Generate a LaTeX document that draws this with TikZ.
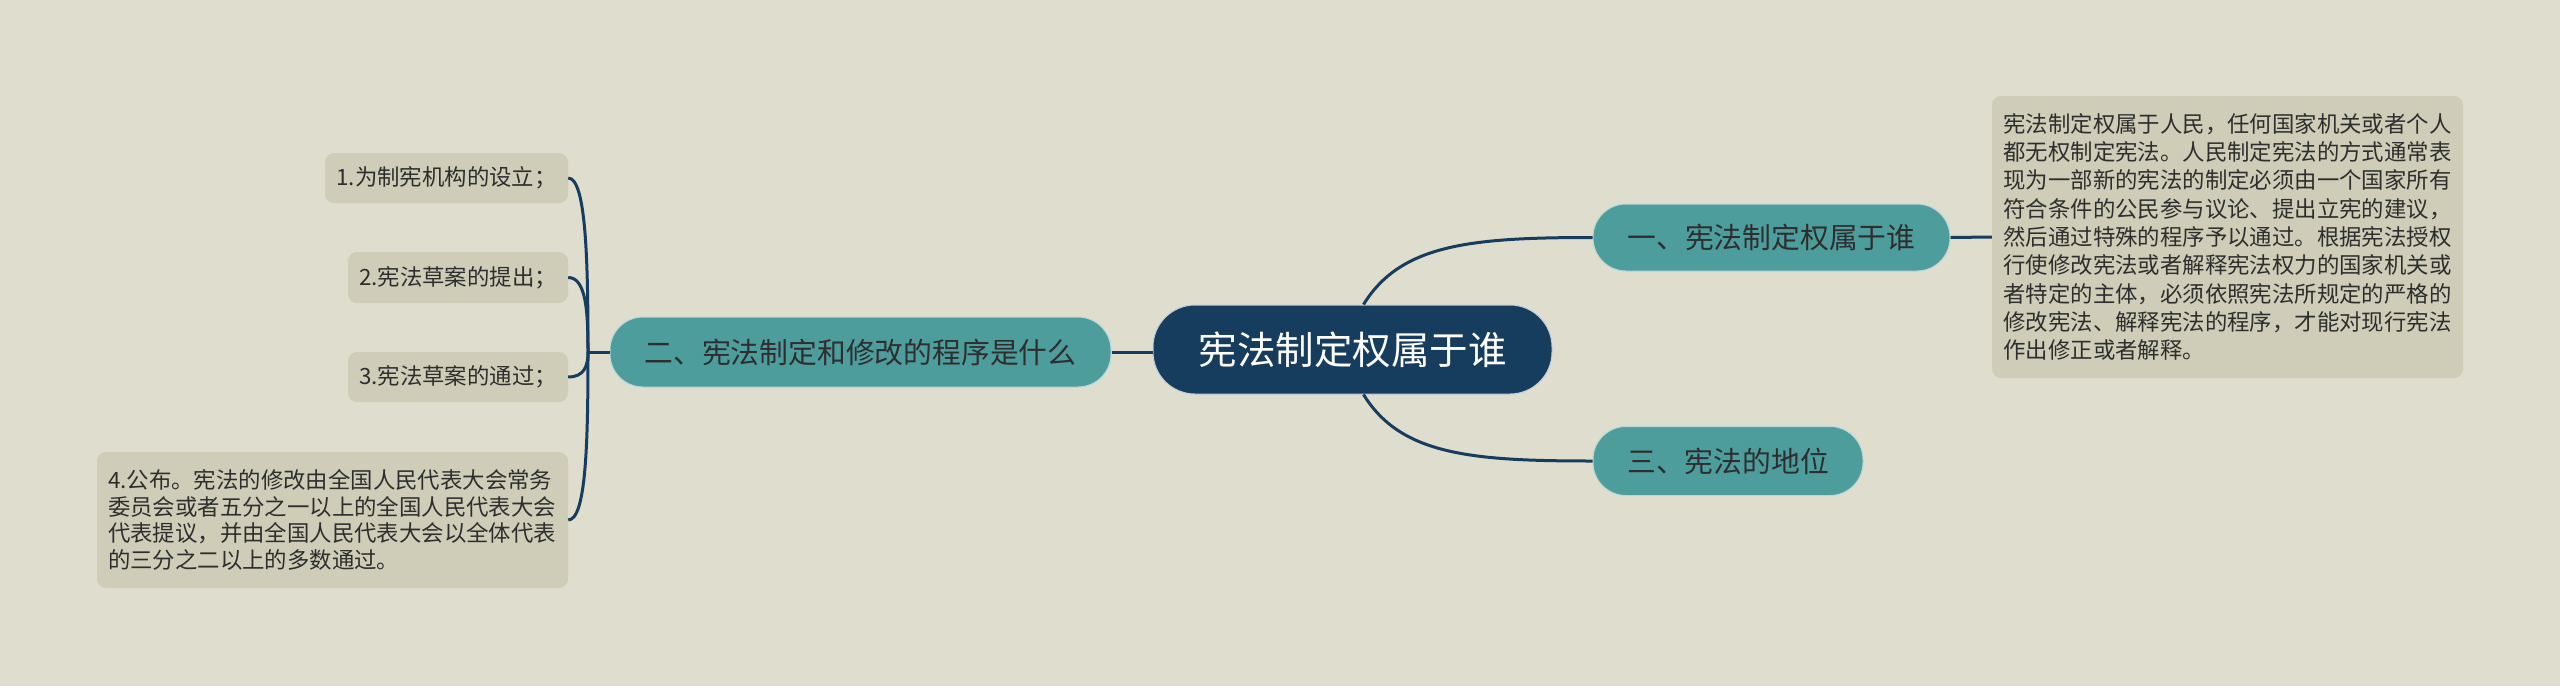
\documentclass[tikz,border=0pt]{standalone}
\usepackage{fontspec}
\setmainfont{Noto Sans CJK SC}
\definecolor{bgc}{HTML}{DFDDCE}
\definecolor{navy}{HTML}{173D5E}
\definecolor{tealc}{HTML}{4E9D9D}
\definecolor{leafc}{HTML}{CFCDB7}
\definecolor{txt}{HTML}{2E2E2E}
\begin{document}
\begin{tikzpicture}[x=1pt,y=-1pt,
	rootnode/.style={fill=navy,draw=white!75!navy,line width=1pt,rounded corners=42pt,text=white,inner sep=0pt,minimum height=89pt,font=\fontsize{38.5}{40}\selectfont},
	branchnode/.style={fill=tealc,draw=white!60!tealc,line width=1pt,rounded corners=33pt,text=txt,inner sep=0pt,minimum height=67pt,font=\fontsize{28.8}{30}\selectfont},
	leafnode/.style={fill=leafc,rounded corners=9pt,text=txt,inner sep=0pt,font=\fontsize{22.4}{28.3}\selectfont},
	link/.style={draw=navy,line width=3pt}]
	\fill[bgc] (0,0) rectangle (2560,686);
	\useasboundingbox (0,0) rectangle (2560,686);
	% centre and branches
	\node[rootnode,minimum width=399pt] (root) at (1352.5,349.5) {宪法制定权属于谁};
	\node[branchnode,minimum width=357pt] (b1) at (1771.5,237.5) {一、宪法制定权属于谁};
	\node[branchnode,minimum width=501pt,minimum height=70pt] (b2) at (860.5,352) {二、宪法制定和修改的程序是什么};
	\node[branchnode,minimum width=270pt,minimum height=69pt] (b3) at (1728,461) {三、宪法的地位};
	% leaves
	\node[leafnode,minimum width=471pt,minimum height=282pt,text width=448pt,align=left] (r1) at (2227.5,237) {宪法制定权属于人民，任何国家机关或者个人\\都无权制定宪法。人民制定宪法的方式通常表\\现为一部新的宪法的制定必须由一个国家所有\\符合条件的公民参与议论、提出立宪的建议，\\然后通过特殊的程序予以通过。根据宪法授权\\行使修改宪法或者解释宪法权力的国家机关或\\者特定的主体，必须依照宪法所规定的严格的\\修改宪法、解释宪法的程序，才能对现行宪法\\作出修正或者解释。};
	\node[leafnode,minimum width=243pt,minimum height=50pt] (l1) at (446.5,178) {1.为制宪机构的设立；};
	\node[leafnode,minimum width=220pt,minimum height=51pt] (l2) at (458,277.5) {2.宪法草案的提出；};
	\node[leafnode,minimum width=220pt,minimum height=50pt] (l3) at (458,377) {3.宪法草案的通过；};
	\node[leafnode,minimum width=471pt,minimum height=136pt,text width=449pt,align=left,font=\fontsize{22.4}{26.7}\selectfont] (l4) at (332.5,520) {4.公布。宪法的修改由全国人民代表大会常务\\委员会或者五分之一以上的全国人民代表大会\\代表提议，并由全国人民代表大会以全体代表\\的三分之二以上的多数通过。};
	% connectors
	\coordinate (fork) at (588,352);
	\draw[link] ([xshift=11pt]root.north) .. controls +(37,-60) and +(-123,0) .. (b1.west);
	\draw[link] ([xshift=11pt]root.south) .. controls +(37,60) and +(-123,0) .. (b3.west);
	\draw[link] (b2.east) -- (b2.east -| root.west);
	\draw[link] (b1.east) -- (r1.west);
	\draw[link] (b2.west) -- (fork);
	\draw[link] (l1.east) .. controls +(18,0) and +(0,-90) .. (fork);
	\draw[link] (l2.east) .. controls +(18,0) and +(0,-40) .. (fork);
	\draw[link] (l3.east) .. controls +(16,0) and +(0,14) .. (fork);
	\draw[link] (l4.east) .. controls +(18,0) and +(0,90) .. (fork);
\end{tikzpicture}
\end{document}
